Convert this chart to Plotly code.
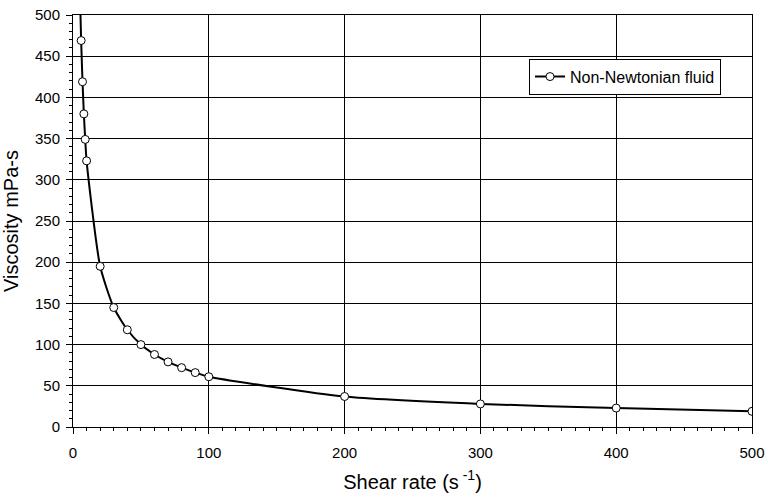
import plotly.graph_objects as go

shear_rate = [5, 6, 7, 8, 9, 10, 20, 30, 40, 50, 60, 70, 80, 90, 100, 200, 300, 400, 500]
viscosity = [532, 469, 419, 380, 349, 323, 195, 145, 118, 100, 88, 79, 72, 66, 61, 37, 28, 23, 19]

FONT = "Liberation Sans, Arial, sans-serif"

fig = go.Figure()
fig.add_trace(go.Scatter(
    x=shear_rate, y=viscosity, mode="lines+markers", name="Non-Newtonian fluid",
    line=dict(color="black", width=2, shape="spline", smoothing=0.6),
    marker=dict(symbol="circle", size=8, color="white", line=dict(color="black", width=1)),
    cliponaxis=True,
))

axis_common = dict(
    showline=True, linecolor="black", linewidth=1, mirror=True,
    showgrid=True, gridcolor="black", gridwidth=1,
    ticks="outside", ticklen=6, tickcolor="black", tickwidth=1,
    tickfont=dict(family=FONT, size=15, color="black"),
    zeroline=False, automargin=False,
)
minor = dict(dtick=10, ticks="outside", ticklen=3, tickcolor="black", tickwidth=1, showgrid=False)
fig.update_xaxes(range=[0, 500], dtick=100, **axis_common, minor=minor, ticklabelstandoff=6,
                 title=dict(text="Shear rate (s<sup> -1</sup>)", font=dict(family=FONT, size=20, color="black"), standoff=14))
fig.update_yaxes(range=[0, 500], dtick=50, **axis_common, minor=minor, ticklabelstandoff=3,
                 title=dict(text="Viscosity mPa-s", font=dict(family=FONT, size=20, color="black"), standoff=11))

fig.update_layout(
    width=768, height=497,
    margin=dict(l=73, r=16, t=15, b=70),
    plot_bgcolor="white", paper_bgcolor="white",
    font=dict(family=FONT, size=15, color="black"),
    showlegend=True,
    legend=dict(x=0.6716, y=0.894, xanchor="left", yanchor="top",
                bgcolor="white", bordercolor="black", borderwidth=1,
                font=dict(family=FONT, size=16, color="black"), itemwidth=30,
                tracegroupgap=0),
)

fig.write_html("out.html", config={"displayModeBar": False},
               post_script="document.body.style.margin='0';document.body.style.overflow='hidden';")
